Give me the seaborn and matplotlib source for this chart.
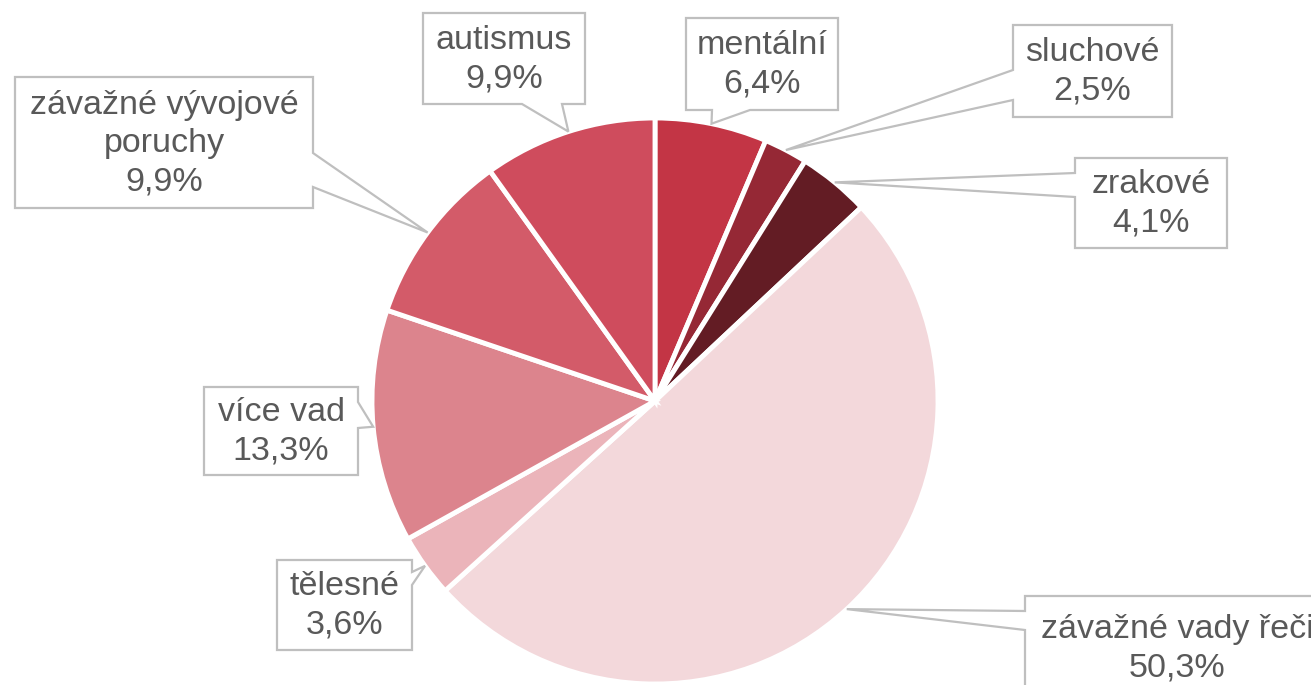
import numpy as np
import matplotlib
matplotlib.use('Agg')
import matplotlib.pyplot as plt
import seaborn as sns
from matplotlib.patches import Polygon

sns.set_style('white')
plt.rcParams['font.family'] = ['Liberation Sans', 'DejaVu Sans']

W, H = 1311, 685

labels = ['mentální', 'sluchové', 'zrakové', 'závažné vady řeči', 'tělesné',
          'více vad', 'závažné vývojové\nporuchy', 'autismus']
shares = [6.4, 2.5, 4.1, 50.3, 3.6, 13.3, 9.9, 9.9]
colors = ['#C33545', '#952835', '#631C24', '#F3D8DB', '#EBB4BA',
          '#DC848D', '#D35B69', '#CF4C5D']

# callout boxes in pixels (x0, y0, x1, y1), side with the pointer, pointer base on that side
boxes = [
    ((686, 18, 838, 110), 'bottom', (712, 750)),
    ((1013, 25, 1172, 117), 'left', (70, 100)),
    ((1075, 158, 1227, 248), 'left', (173, 197)),
    ((1025, 596, 1329, 700), 'left', (611, 630)),
    ((277, 560, 412, 650), 'right', (572, 585)),
    ((204, 387, 358, 475), 'right', (402, 428)),
    ((15, 77, 313, 208), 'right', (153, 187)),
    ((423, 13, 585, 104), 'bottom', (522, 562)),
]


def callout(ax, box, side, base, tip, text):
    x0, y0, x1, y1 = box
    a, b = base
    tx, ty = tip[0], H - tip[1]  # back to pixel space (y down)
    pts = [(x0, y0), (x1, y0)]
    if side == 'right':
        pts += [(x1, a), (tx, ty), (x1, b)]
    pts += [(x1, y1)]
    if side == 'bottom':
        pts += [(b, y1), (tx, ty), (a, y1)]
    pts += [(x0, y1)]
    if side == 'left':
        pts += [(x0, b), (tx, ty), (x0, a)]
    pts = [(x, H - y) for x, y in pts]
    ax.add_patch(Polygon(pts, closed=True, facecolor='white', edgecolor='#BFBFBF',
                         linewidth=1.6, zorder=5))
    ax.text((x0 + x1) / 2, H - (y0 + y1) / 2 - 1, text, ha='center', va='center',
            fontsize=24.5, color='#595959', linespacing=1.3, zorder=6)


fig = plt.figure(figsize=(W / 100, H / 100), dpi=100)
ax = fig.add_axes([0, 0, 1, 1])
wedges, _ = ax.pie(shares, colors=colors, startangle=90, counterclock=False,
                   center=(655, H - 401), radius=283,
                   wedgeprops=dict(edgecolor='white', linewidth=3.5))

for w, lab, val, (box, side, base) in zip(wedges, labels, shares, boxes):
    mid = np.deg2rad((w.theta1 + w.theta2) / 2)
    tip = (w.center[0] + w.r * np.cos(mid), w.center[1] + w.r * np.sin(mid))
    txt = f'{lab}\n{val:.1f}%'.replace('.', ',')
    callout(ax, box, side, base, tip, txt)

ax.set_xlim(0, W)
ax.set_ylim(0, H)
ax.set_aspect('equal')
ax.axis('off')

plt.savefig('out.png', dpi=100)
plt.close()
